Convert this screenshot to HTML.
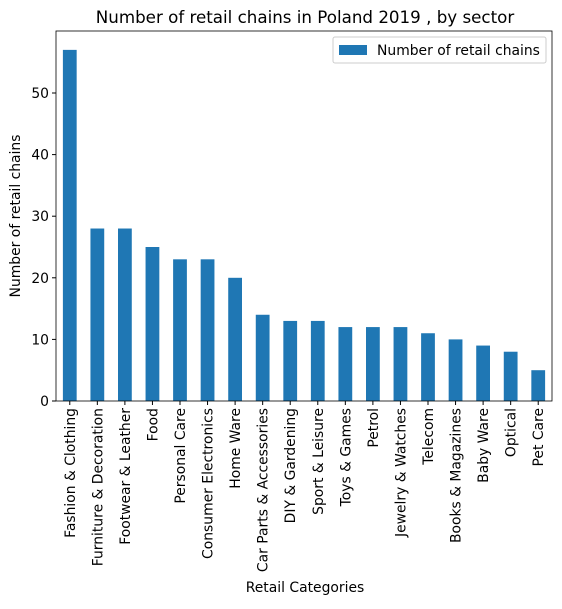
<!DOCTYPE html>
<html><head><meta charset="utf-8"><style>
body{margin:0;background:#fff}
svg text{font-family:"DejaVu Sans","Liberation Sans",sans-serif;fill:#000}
</style></head><body>
<svg id="chart" width="562" height="604" xmlns="http://www.w3.org/2000/svg">
<text x="305" y="23" font-size="16.7" text-anchor="middle">Number of retail chains in Poland 2019 , by sector</text>
<g id="bars"></g>
<g id="yticks"></g>
<g id="xticks"></g>
<rect x="56" y="31" width="496" height="370" fill="none" stroke="#000" stroke-width="0.8"/>
<text x="305" y="592" font-size="13.9" text-anchor="middle">Retail Categories</text>
<text transform="translate(20,216) rotate(-90)" font-size="13.9" text-anchor="middle">Number of retail chains</text>
<g>
<rect x="333" y="37" width="213" height="26" fill="#fff" stroke="#ccc" rx="2"/>
<rect x="339" y="45" width="28" height="10" fill="#1f77b4"/>
<text x="377" y="55" font-size="13.9">Number of retail chains</text>
</g>
</svg>
<script>
const categories=["Fashion & Clothing","Furniture & Decoration","Footwear & Leather","Food","Personal Care","Consumer Electronics","Home Ware","Car Parts & Accessories","DIY & Gardening","Sport & Leisure","Toys & Games","Petrol","Jewelry & Watches","Telecom","Books & Magazines","Baby Ware","Optical","Pet Care"];
const values=[57,28,28,25,23,23,20,14,13,13,12,12,12,11,10,9,8,5];
const yTicks=[0,10,20,30,40,50];
const NS="http://www.w3.org/2000/svg";
const L=56,R=552,T=31,B=401;
const step=(R-L)/categories.length;
const xc=i=>L+step*(i+0.5);
const y=v=>B-v*(B-93)/50;
const bars=document.getElementById('bars'),yt=document.getElementById('yticks'),xt=document.getElementById('xticks');
values.forEach((v,i)=>{
 const r=document.createElementNS(NS,'rect');
 r.setAttribute('x',xc(i)-step/4);r.setAttribute('width',step/2);
 r.setAttribute('y',y(v));r.setAttribute('height',B-y(v));r.setAttribute('fill','#1f77b4');
 
 
 bars.appendChild(r);
});
yTicks.forEach(t=>{
 const l=document.createElementNS(NS,'line');
 l.setAttribute('x1',L-4);l.setAttribute('x2',L);l.setAttribute('y1',y(t));l.setAttribute('y2',y(t));l.setAttribute('stroke','#000');
 
 
 yt.appendChild(l);
 const s=document.createElementNS(NS,'text');
 s.setAttribute('x',L-7);s.setAttribute('y',y(t)+5);s.setAttribute('font-size','13.9');s.setAttribute('text-anchor','end');s.textContent=t;
 
 
 yt.appendChild(s);
});
categories.forEach((c,i)=>{
 const l=document.createElementNS(NS,'line');
 l.setAttribute('x1',xc(i));l.setAttribute('x2',xc(i));l.setAttribute('y1',B);l.setAttribute('y2',B+4);l.setAttribute('stroke','#000');
 
 
 xt.appendChild(l);
 const s=document.createElementNS(NS,'text');
 s.setAttribute('transform','translate('+(xc(i)+5)+','+(B+7)+') rotate(-90)');
 s.setAttribute('font-size','13.9');s.setAttribute('text-anchor','end');s.textContent=c;
 
 
 xt.appendChild(s);
});
</script>
</body></html>
